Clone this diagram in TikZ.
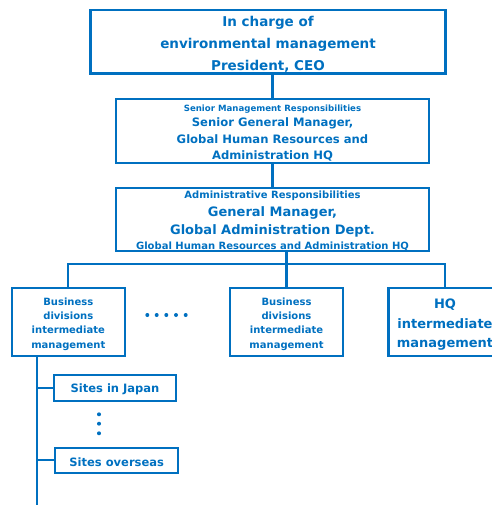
\documentclass[tikz,border=0pt]{standalone}
\usepackage{fontspec}
\setmainfont{DejaVu Sans}
\definecolor{bl}{HTML}{0070C0}
\newcommand{\fs}[1]{\fontsize{#1pt}{0pt}\selectfont}
\begin{document}
\lineskiplimit=-100pt
\lineskip=0pt
\begin{tikzpicture}[x=1pt,y=-1pt,
  box/.style={draw=bl,line width=2.1pt,inner sep=0pt},
  txt/.style={inner sep=0pt,align=center,text=bl,yshift=-2.5pt,
    font=\bfseries\fontsize{10pt}{0pt}\selectfont},
  conn/.style={draw=bl,line width=2.1pt},
  dot/.style={fill=bl,draw=none,circle,inner sep=0pt,minimum size=4.2pt}]
\useasboundingbox (0,0) rectangle (491,505);
\node[box,minimum width=355pt,minimum height=63.5pt,
  label={[txt]center:{\fs{13.5}In charge of\\[22pt]\fs{13.5}environmental management\\[22pt]\fs{13.5}President, CEO}}]
  (ceo) at (268,41.8) {};
\node[box,minimum width=313pt,minimum height=64pt,
  label={[txt]center:{\fs{8.6}Senior Management Responsibilities\\[15pt]\fs{11.6}Senior General Manager,\\[16.5pt]\fs{11.6}Global Human Resources and\\[16.5pt]\fs{11.6}Administration HQ}}]
  (sgm) at (272.5,131) {};
\node[box,minimum width=313pt,minimum height=63pt,
  label={[txt,yshift=1pt]center:{\fs{10}Administrative Responsibilities\\[18.3pt]\fs{13}General Manager,\\[18pt]\fs{13}Global Administration Dept.\\[14.7pt]\fs{10}Global Human Resources and Administration HQ}}]
  (gm) at (272.5,219.2) {};
\node[box,minimum width=113pt,minimum height=68pt,
  label={[txt]center:{\fs{10}Business\\[14pt]\fs{10}divisions\\[14pt]\fs{10}intermediate\\[14.3pt]\fs{10}management}}]
  (bd1) at (68.3,321.7) {};
\node[box,minimum width=113pt,minimum height=68pt,
  label={[txt]center:{\fs{10}Business\\[14pt]\fs{10}divisions\\[14pt]\fs{10}intermediate\\[14.3pt]\fs{10}management}}]
  (bd2) at (286.5,321.7) {};
\node[box,minimum width=113pt,minimum height=68pt,
  label={[txt,yshift=-0.5pt]center:{\fs{13}HQ\\[20pt]\fs{13}intermediate\\[19pt]\fs{13}management}}]
  (hq) at (445,321.7) {};
\node[box,minimum width=121.4pt,minimum height=25.4pt,
  label={[txt,yshift=1pt]center:{\fs{11.5}Sites in Japan}}]
  (jp) at (115,388) {};
\node[box,minimum width=122.7pt,minimum height=25.3pt,
  label={[txt,yshift=1pt]center:{\fs{11.5}Sites overseas}}]
  (os) at (116.7,460.3) {};
% dots
\foreach \i [count=\k] in {147.3,156.7,166.3,176,185.7}
  \fill[bl] (\i,315) circle[radius=2pt] coordinate (hd\k);
\foreach \j [count=\k] in {414.3,423.7,433.3}
  \fill[bl] (99,\j) circle[radius=2pt] coordinate (vd\k);
% connectors
\draw[conn] (sgm.north) -- (sgm.north |- ceo.south);
\draw[conn] (gm.north) -- (gm.north |- sgm.south);
\coordinate (bus) at (286.5,264);
\draw[conn] (bd2.north |- gm.south) -- (bd2.north);
\draw[conn] (bd1.north) -- (bd1.north |- bus) -- (hq.north |- bus) -- (hq.north);
\coordinate (tail) at (37.3,506);
\draw[conn] (bd1.south -| tail) -- (tail);
\draw[conn] (jp.west -| tail) -- (jp.west);
\draw[conn] (os.west -| tail) -- (os.west);
\end{tikzpicture}
\end{document}
